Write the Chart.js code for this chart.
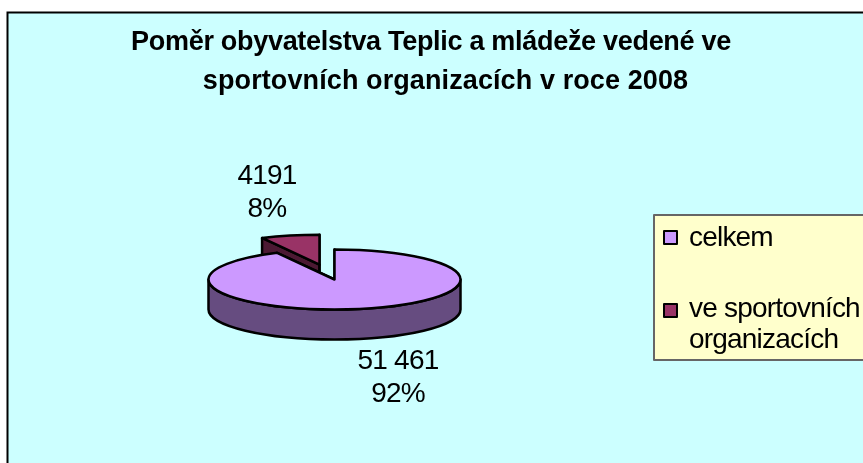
<!DOCTYPE html>
<html>
<head>
<meta charset="utf-8">
<style>
  html, body { margin: 0; padding: 0; background: #fff; }
  canvas { display: block; }
</style>
<script src="https://cdn.jsdelivr.net/npm/chart.js@4/dist/chart.umd.js"></script>
</head>
<body>
<canvas id="pie" width="863" height="463"></canvas>
<script>
const titleLines = ["Poměr obyvatelstva Teplic a mládeže vedené ve", "sportovních organizacích v roce 2008"];
const categories = ["celkem", "ve sportovních organizacích"];
const legendLines = [["celkem"], ["ve sportovních", "organizacích"]];
const values = [51461, 4191];
const valueLabels = ["51 461", "4191"];
const percentLabels = ["92%", "8%"];
const topColors = ["#CC99FF", "#993366"];
const sideColors = ["#664C80", "#4C1933"];
const explode = [0, 64];

const FONT = '"Liberation Sans", Arial, sans-serif';
const pieX = 334.5, pieY = 279.5, radius = 126, squash = 30 / 126, depth = 30;
// where each slice's two line label is centred
const labelPos = [[398, 361], [267, 176]];

function sliceGeom(arc, i) {
  const p = arc.getProps(["startAngle", "endAngle", "outerRadius"], true);
  const mid = (p.startAngle + p.endAngle) / 2;
  return {
    x: pieX + Math.cos(mid) * explode[i],
    y: pieY + Math.sin(mid) * explode[i] * squash,
    r: p.outerRadius,
    start: p.startAngle,
    end: p.endAngle
  };
}

function drawSides(ctx, g, color) {
  const ry = g.r * squash;
  ctx.fillStyle = color;
  ctx.strokeStyle = "#000";
  ctx.lineWidth = 2.5;
  ctx.lineJoin = "round";
  // cut walls
  [g.start, g.end].forEach(a => {
    const px = g.x + Math.cos(a) * g.r, py = g.y + Math.sin(a) * ry;
    ctx.beginPath();
    ctx.moveTo(g.x, g.y);
    ctx.lineTo(px, py);
    ctx.lineTo(px, py + depth);
    ctx.lineTo(g.x, g.y + depth);
    ctx.closePath();
    ctx.fill();
    ctx.stroke();
  });
  // round front wall, only the part that faces the viewer
  const from = Math.max(g.start, 0), to = Math.min(g.end, Math.PI);
  if (to > from) {
    ctx.beginPath();
    ctx.ellipse(g.x, g.y, g.r, ry, 0, from, to);
    ctx.ellipse(g.x, g.y + depth, g.r, ry, 0, to, from, true);
    ctx.closePath();
    ctx.fill();
    ctx.stroke();
  }
}

const pie3d = {
  id: "pie3d",
  beforeDraw(chart) {
    const ctx = chart.ctx;
    ctx.fillStyle = "#fff";
    ctx.fillRect(0, 0, 863, 463);
    ctx.fillStyle = "#CCFFFF";
    ctx.fillRect(8, 12, 855, 451);
    ctx.strokeStyle = "#000";
    ctx.lineWidth = 2;
    ctx.beginPath();
    ctx.moveTo(7.5, 463);
    ctx.lineTo(7.5, 12.5);
    ctx.lineTo(863, 12.5);
    ctx.stroke();
  },
  beforeDatasetsDraw(chart) {
    const ctx = chart.ctx;
    const arcs = chart.getDatasetMeta(0).data;
    // the small exploded slice goes behind the big one
    [1, 0].forEach(i => {
      const arc = arcs[i];
      const g = sliceGeom(arc, i);
      drawSides(ctx, g, sideColors[i]);

      ctx.save();
      ctx.translate(g.x, g.y);
      ctx.scale(1, squash);
      ctx.translate(-arc.x, -arc.y);
      arc.draw(ctx);
      ctx.restore();

      ctx.beginPath();
      ctx.moveTo(g.x, g.y);
      ctx.ellipse(g.x, g.y, g.r, g.r * squash, 0, g.start, g.end);
      ctx.closePath();
      ctx.strokeStyle = "#000";
      ctx.lineWidth = 2.5;
      ctx.lineJoin = "round";
      ctx.stroke();
    });
    return false;
  },
  afterDraw(chart) {
    const ctx = chart.ctx;
    ctx.save();
    ctx.fillStyle = "#000";
    ctx.textBaseline = "middle";
    ctx.textAlign = "center";

    // the second title line sits off centre in the original
    const titleX = [431, 445.5], titleY = [43, 82], titleSpacing = ["-0.3px", "0.1px"];
    ctx.font = "bold 27px " + FONT;
    titleLines.forEach((line, i) => {
      ctx.letterSpacing = titleSpacing[i];
      ctx.fillText(line, titleX[i], titleY[i]);
    });

    ctx.font = "28px " + FONT;
    ctx.letterSpacing = "-0.8px";
    values.forEach((v, i) => {
      ctx.fillText(valueLabels[i], labelPos[i][0], labelPos[i][1]);
      ctx.fillText(percentLabels[i], labelPos[i][0], labelPos[i][1] + 33);
    });

    // legend
    ctx.fillStyle = "#FFFFCC";
    ctx.fillRect(654, 215, 209, 145);
    ctx.strokeStyle = "#666";
    ctx.lineWidth = 2;
    ctx.beginPath();
    ctx.moveTo(863, 215);
    ctx.lineTo(654, 215);
    ctx.lineTo(654, 360);
    ctx.lineTo(863, 360);
    ctx.stroke();

    const swatchY = [231, 304], textY = [[238], [309, 340]];
    ctx.textAlign = "left";
    categories.forEach((c, i) => {
      ctx.fillStyle = topColors[i];
      ctx.strokeStyle = "#000";
      ctx.lineWidth = 2;
      ctx.fillRect(664, swatchY[i], 13, 13);
      ctx.strokeRect(664, swatchY[i], 13, 13);
      ctx.fillStyle = "#000";
      legendLines[i].forEach((line, k) => ctx.fillText(line, 689, textY[i][k]));
    });
    ctx.restore();
  }
};

new Chart(document.getElementById("pie"), {
  type: "pie",
  data: {
    labels: categories,
    datasets: [{
      data: values,
      backgroundColor: topColors,
      borderWidth: 0
    }]
  },
  options: {
    responsive: false,
    animation: false,
    radius: radius,
    events: [],
    plugins: {
      legend: { display: false },
      tooltip: { enabled: false },
      title: { display: false }
    }
  },
  plugins: [pie3d]
});
</script>
</body>
</html>
